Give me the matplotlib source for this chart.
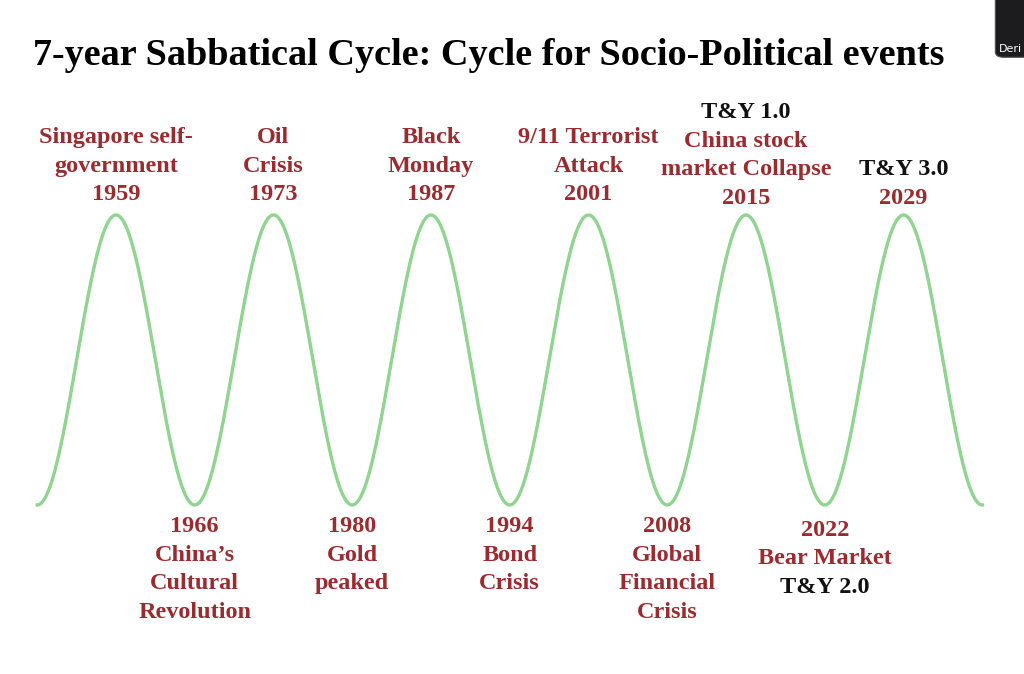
import numpy as np
import matplotlib.pyplot as plt
from matplotlib.patches import FancyBboxPatch

RED = '#9b2b2e'
BLACK = '#111111'

# events at the peaks of the wave (year, lines of text with colour)
peak_years = [1959, 1973, 1987, 2001, 2015, 2029]
peak_labels = [
    [('Singapore self-', RED), ('government', RED), ('1959', RED)],
    [('Oil', RED), ('Crisis', RED), ('1973', RED)],
    [('Black', RED), ('Monday', RED), ('1987', RED)],
    [('9/11 Terrorist', RED), ('Attack', RED), ('2001', RED)],
    [('T&Y 1.0', BLACK), ('China stock', RED), ('market Collapse', RED), ('2015', RED)],
    [('T&Y 3.0', BLACK), ('2029', RED)],
]

# events at the troughs
trough_years = [1966, 1980, 1994, 2008, 2022]
trough_labels = [
    [('1966', RED), ('China\u2019s', RED), ('Cultural', RED), ('Revolution', RED)],
    [('1980', RED), ('Gold', RED), ('peaked', RED)],
    [('1994', RED), ('Bond', RED), ('Crisis', RED)],
    [('2008', RED), ('Global', RED), ('Financial', RED), ('Crisis', RED)],
    [('2022', RED), ('Bear Market', RED), ('T&Y 2.0', BLACK)],
]

cycle_start = 1952
cycle_end = 2036
period = 14

fig = plt.figure(figsize=(10.24, 6.74), dpi=100)
ax = fig.add_axes([0, 0, 1, 1])
ax.set_xlim(1948.69, 2039.71)
ax.set_ylim(-2.166, 2.483)
ax.axis('off')

years = np.linspace(cycle_start, cycle_end, 2000)
wave = np.cos(2 * np.pi * (years - peak_years[0]) / period)
ax.plot(years, wave, color='#8fd48f', lw=2.4)

font = dict(family='Liberation Serif', fontweight='bold', fontsize=17.5,
            ha='center', va='center')
line_h = 0.197  # spacing between text lines in data units

# top labels: last line sits just above the peak
for yr, lines in zip(peak_years, peak_labels):
    n = len(lines)
    base = 1.14 if yr < 2015 else 1.115
    for i, (txt, col) in enumerate(lines):
        y = base + (n - 1 - i) * line_h
        ax.text(yr, y, txt, color=col, **font)

# bottom labels: first line just below the trough
for yr, lines in zip(trough_years, trough_labels):
    y0 = -1.15 if yr != 2022 else -1.175
    for i, (txt, col) in enumerate(lines):
        ax.text(yr, y0 - i * line_h, txt, color=col, **font)

fig.text(0.477, 0.918, '7-year Sabbatical Cycle: Cycle for Socio-Political events',
         family='Liberation Serif', fontweight='bold', fontsize=27.5,
         ha='center', va='center', color='black')

# webcam thumbnail in the corner of the screenshot
thumb = FancyBboxPatch((0.972, 0.915), 0.06, 0.1, boxstyle='round,pad=0,rounding_size=0.008',
                       transform=fig.transFigure, facecolor='#1c1c1e', edgecolor='#555555',
                       lw=0.8, clip_on=False)
fig.patches.append(thumb)
fig.text(0.975, 0.928, 'Deri', color='white', fontsize=8, ha='left', va='center')

fig.savefig('out.png', dpi=100)
